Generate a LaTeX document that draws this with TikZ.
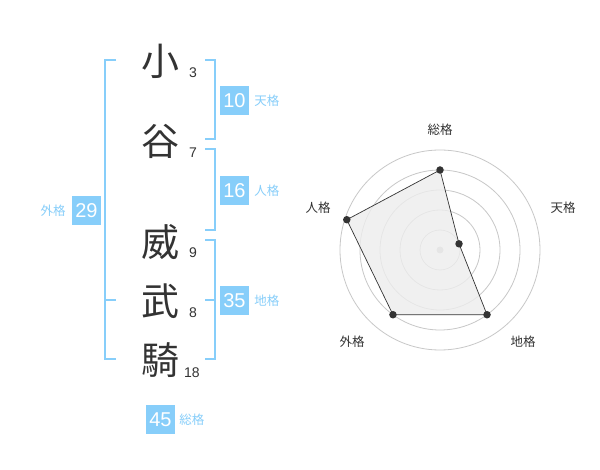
\documentclass[tikz,border=0pt]{standalone}
\usepackage{fontspec}
\setmainfont{Liberation Sans}
\newfontfamily\jpfont{Noto Sans CJK JP}
\usetikzlibrary{positioning}
\definecolor{skyblue}{RGB}{135,206,250}
\definecolor{inkgray}{RGB}{51,51,51}
\definecolor{ringgray}{RGB}{200,200,200}
\definecolor{centergray}{RGB}{200,200,200}
\tikzstyle{kanji} = [text=inkgray, font=\jpfont\fontsize{38}{38}\selectfont, inner sep=0pt]
\tikzstyle{strokes} = [text=inkgray, font=\fontsize{14}{14}\selectfont, inner sep=0pt]
\tikzstyle{score} = [rectangle, fill=skyblue, text=white, minimum width=29pt, minimum height=29pt, inner sep=0pt, font=\fontsize{20}{20}\selectfont]
\tikzstyle{kaku} = [text=skyblue, font=\jpfont\fontsize{12.5}{12.5}\selectfont, inner sep=0pt]
\tikzstyle{bracket} = [skyblue, line width=2pt]
\tikzstyle{ring} = [ringgray, line width=0.8pt]
\tikzstyle{axis} = [text=inkgray, font=\jpfont\fontsize{12.5}{12.5}\selectfont, inner sep=0pt]
\tikzstyle{dot} = [circle, fill=inkgray, inner sep=0pt, minimum size=7.5pt]

\begin{document}
\begin{tikzpicture}
[x=1pt, y=-1pt]
\useasboundingbox [fill=white] (0,0) rectangle (600,470);

% name
\node (ko) [kanji] at (160,61) {小};
\node (tani) [kanji] at (160,141) {谷};
\node (i) [kanji] at (160,242) {威};
\node (take) [kanji] at (160,301) {武};
\node (ki) [kanji] at (160,360) {騎};

\node (kon) [strokes] at (193,73) {3};
\node (tanin) [strokes] at (193,153) {7};
\node (in) [strokes] at (193,253) {9};
\node (taken) [strokes] at (193,313) {8};
\node (kin) [strokes] at (192,373) {18};

% brackets
\draw [bracket] (205,60) -| (215,139) -- (205,139);
\draw [bracket] (205,149) -| (215,230) -- (205,230);
\draw [bracket] (205,240) -| (215,359) -- (205,359);
\draw [bracket] (205,300) -- (215,300);
\draw [bracket] (116,60) -| (105,359) -- (116,359);
\draw [bracket] (105,300) -- (116,300);

% scores
\node (ten) [score] at (234.5,100.5) {10};
\node (tenlabel) [kaku, right=5pt of ten] {天格};
\node (jin) [score] at (234.5,190.5) {16};
\node (jinlabel) [kaku, right=5pt of jin] {人格};
\node (chi) [score] at (234.5,300.5) {35};
\node (chilabel) [kaku, right=5pt of chi] {地格};
\node (gai) [score] at (86.5,210.5) {29};
\node (gailabel) [kaku, left=6pt of gai] {外格};
\node (so) [score] at (160.5,419.5) {45};
\node (solabel) [kaku, right=4pt of so] {総格};

% radar
\begin{scope}[xshift=440pt, yshift=-250pt, y=1pt]
\foreach \r in {20,40,60,80,100}
  \draw [ring] (0,0) circle [radius=\r];
\fill [centergray] (0,0) circle [radius=3.5];
\coordinate (zong) at (90:80);
\coordinate (tian) at (18:20);
\coordinate (di) at (-54:80);
\coordinate (wai) at (-126:80);
\coordinate (ren) at (162:98);
\fill [black!7, fill opacity=0.8] (zong) -- (tian) -- (di) -- (wai) -- (ren) -- cycle;
\draw [inkgray, line width=0.7pt] (zong) -- (tian) -- (di) -- (wai) -- (ren) -- cycle;
\node (zongdot) [dot] at (zong) {};
\node (tiandot) [dot] at (tian) {};
\node (didot) [dot] at (di) {};
\node (waidot) [dot] at (wai) {};
\node (rendot) [dot] at (ren) {};
\end{scope}

\node (zonglabel) [axis] at (440,130) {総格};
\node (tianlabel) [axis] at (563,208) {天格};
\node (dilabel) [axis] at (523,342) {地格};
\node (wailabel) [axis] at (352,342) {外格};
\node (renlabel) [axis] at (318,208) {人格};

\end{tikzpicture}
\end{document}
